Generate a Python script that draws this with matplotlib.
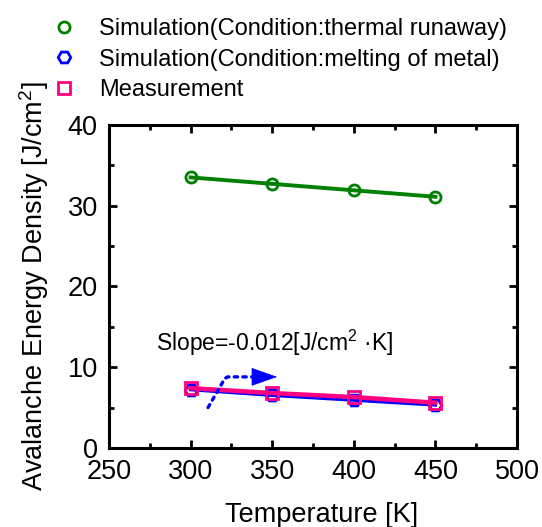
import numpy as np
import matplotlib.pyplot as plt

plt.rcParams['font.family'] = ['Liberation Sans', 'DejaVu Sans']
plt.rcParams['mathtext.fontset'] = 'custom'
plt.rcParams['mathtext.rm'] = 'Liberation Sans'

# data
temp = [300, 350, 400, 450]
sim_runaway = [33.5, 32.7, 31.9, 31.1]
sim_melting = [7.2, 6.5, 5.9, 5.3]
measurement = [7.4, 6.8, 6.3, 5.6]

x_ticks = [250, 300, 350, 400, 450, 500]
y_ticks = [0, 10, 20, 30, 40]

fig = plt.figure(figsize=(5.42, 5.27), dpi=100)
ax = fig.add_axes([0.201, 0.150, 0.753, 0.613])

ax.plot(temp, sim_runaway, color='#008000', lw=2.8, marker='o', ms=8,
        mfc='none', mew=2, label='Simulation(Condition:thermal runaway)')
ax.plot(temp, sim_melting, color='#0000FF', lw=2.2, marker='H', ms=9,
        mfc='none', mew=2, label='Simulation(Condition:melting of metal)')
ax.plot(temp, measurement, color='#FF0080', lw=3.2, marker='s', ms=8,
        mfc='none', mew=2, label='Measurement')

ax.set_xlim(250, 500)
ax.set_ylim(0, 40)
ax.set_xticks(x_ticks)
ax.set_yticks(y_ticks)
ax.set_xticks(np.arange(275, 500, 50), minor=True)
ax.set_yticks(np.arange(5, 40, 10), minor=True)
ax.tick_params(which='both', direction='in', top=True, right=True,
               width=2, labelsize=19.5, pad=8)
ax.tick_params(which='major', length=6)
ax.tick_params(which='minor', length=3.5)
for s in ax.spines.values():
    s.set_linewidth(2.2)

ax.set_xlabel('Temperature [K]', fontsize=19.5, labelpad=12)
ax.xaxis.label.set_x(0.522)
ax.set_ylabel('Avalanche Energy Density [J/cm$^2$]', fontsize=19.5, labelpad=12)

ax.text(279, 13.0, 'Slope=-0.012[J/cm$^2$ ·K]', fontsize=16.5, va='center')

# dotted arrow pointing at the measurement line
ax.annotate('', xy=(338, 8.8), xytext=(310.7, 5.0),
            arrowprops=dict(arrowstyle='-', color='#0000FF', lw=2.4,
                            ls=(0, (1, 1.6)), shrinkA=0, shrinkB=0,
                            connectionstyle='angle,angleA=60,angleB=0,rad=3'))
ax.annotate('', xy=(353, 8.8), xytext=(338, 8.8),
            arrowprops=dict(arrowstyle='-|>,head_length=1.73,head_width=0.61',
                            color='#0000FF', lw=0.5, shrinkA=0, shrinkB=0,
                            mutation_scale=10))

fig.legend(loc='upper left', bbox_to_anchor=(0.052, 1.006), frameon=False,
           fontsize=17, handlelength=1.2, handletextpad=0.9, labelspacing=0.36)
for h in fig.legends[0].legend_handles:
    h.set_linestyle('none')

fig.savefig('out.png', dpi=100)
